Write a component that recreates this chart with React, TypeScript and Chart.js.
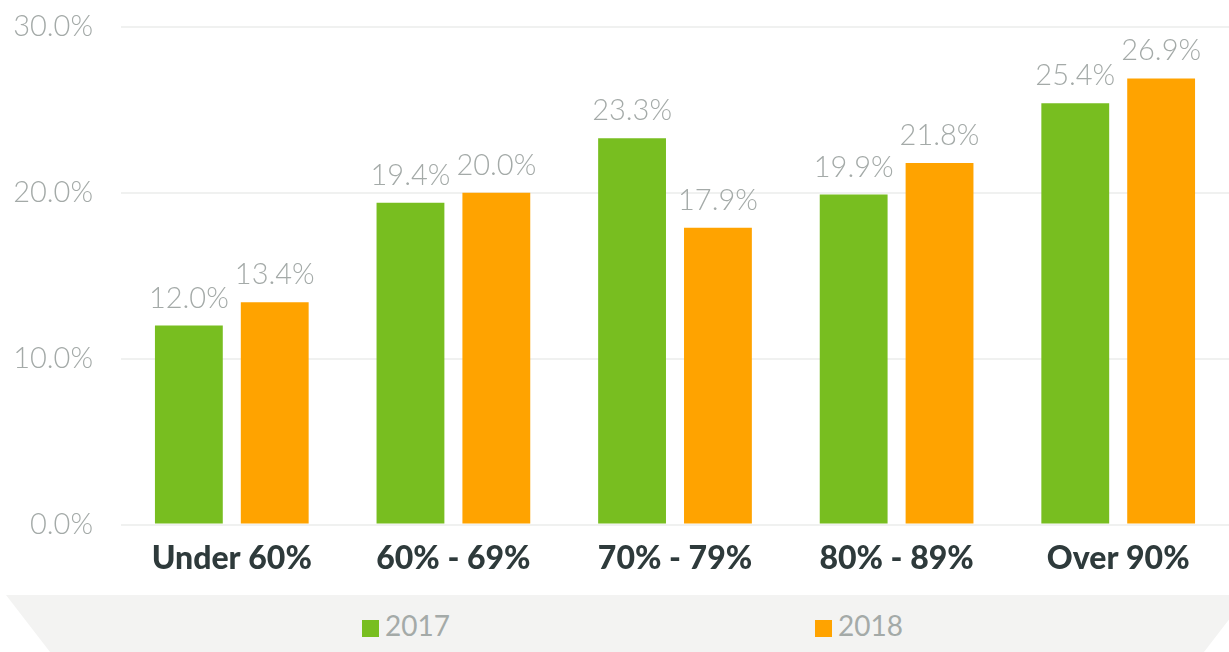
import React, { useEffect, useRef } from "react";
import { Chart, registerables } from "chart.js";

Chart.register(...registerables);

const categories = ["Under 60%", "60% - 69%", "70% - 79%", "80% - 89%", "Over 90%"];
const series2017 = [12.0, 19.4, 23.3, 19.9, 25.4];
const series2018 = [13.4, 20.0, 17.9, 21.8, 26.9];
const seriesNames = ["2017", "2018"];
const yTicks = [0, 10, 20, 30];

const GREEN = "#78BE20";
const ORANGE = "#FFA300";
const GRAY_TEXT = "#A4AAA8";
const DARK_TEXT = "#2E3A3B";

const valueLabels = {
  id: "valueLabels",
  afterDatasetsDraw(chart: any) {
    const ctx = chart.ctx;
    ctx.save();
    ctx.font = "300 29px Lato";
    ctx.fillStyle = GRAY_TEXT;
    ctx.textAlign = "center";
    ctx.textBaseline = "alphabetic";
    chart.data.datasets.forEach((ds: any, i: number) => {
      const meta = chart.getDatasetMeta(i);
      meta.data.forEach((el: any, j: number) => {
        const v = ds.data[j];
        ctx.fillText(v.toFixed(1) + "%", el.x, el.y - 18);
      });
    });
    ctx.restore();
  },
};

export default function App() {
  const ref = useRef<HTMLCanvasElement | null>(null);

  useEffect(() => {
    if (!ref.current) return;
    const chart = new Chart(ref.current, {
      type: "bar",
      data: {
        labels: categories,
        datasets: [
          {
            label: seriesNames[0],
            data: series2017,
            backgroundColor: GREEN,
            categoryPercentage: 0.775,
            barPercentage: 0.79,
          },
          {
            label: seriesNames[1],
            data: series2018,
            backgroundColor: ORANGE,
            categoryPercentage: 0.775,
            barPercentage: 0.79,
          },
        ],
      },
      options: {
        animation: false,
        responsive: false,
        maintainAspectRatio: false,
        layout: { padding: { top: 27, bottom: 2, left: 0, right: 0 } },
        plugins: {
          legend: { display: false },
          tooltip: { enabled: false },
        },
        scales: {
          x: {
            grid: { display: false, drawTicks: false },
            border: { display: false },
            ticks: {
              color: DARK_TEXT,
              font: { family: "Lato", size: 32, weight: 900 as any, lineHeight: 1.2 },
              padding: 15,
            },
          },
          y: {
            min: yTicks[0],
            max: yTicks[yTicks.length - 1],
            afterBuildTicks(scale: any) {
              scale.ticks = yTicks.map((v) => ({ value: v }));
            },
            afterFit(scale: any) {
              scale.width = 121;
            },
            grid: {
              color: "#F0F1F0",
              lineWidth: 2,
              drawTicks: true,
              tickLength: 28,
              tickColor: "rgba(0,0,0,0)",
            },
            border: { display: false },
            ticks: {
              color: GRAY_TEXT,
              font: { family: "Lato", size: 29, weight: 300 as any, lineHeight: 1.2 },
              padding: 0,
              callback: (v: any) => Number(v).toFixed(1) + "%",
            },
          },
        },
      },
      plugins: [valueLabels],
    });
    return () => chart.destroy();
  }, []);

  return (
    <div style={{ position: "absolute", left: 0, top: 0, width: 1229, height: 652, overflow: "hidden", background: "#fff" }}>
      <canvas ref={ref} width={1229} height={595} style={{ position: "absolute", left: 0, top: 0, width: 1229, height: 595 }} />
      <div
        style={{
          position: "absolute",
          left: 0,
          top: 595,
          width: 1229,
          height: 57,
          background: "#F3F3F2",
          clipPath: "polygon(6px 0px, 1248px 0px, 1204px 57px, 50px 57px)",
        }}
      />
      {[0, 1].map((i) => (
        <div
          key={i}
          style={{
            position: "absolute",
            left: i === 0 ? 362 : 815,
            top: 607,
            height: 36,
            display: "flex",
            alignItems: "center",
            fontFamily: "Lato",
            fontSize: 28,
            color: GRAY_TEXT,
          }}
        >
          <span style={{ display: "inline-block", width: 17, height: 17, background: i === 0 ? GREEN : ORANGE, marginRight: 6, marginTop: 7 }} />
          <span>{seriesNames[i]}</span>
        </div>
      ))}
    </div>
  );
}
